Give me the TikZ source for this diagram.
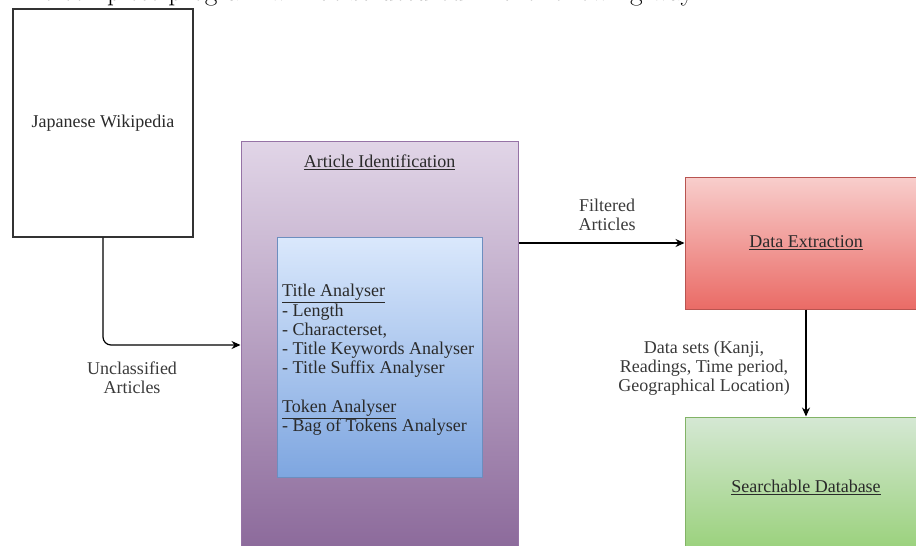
\documentclass[tikz,border=0pt]{standalone}
\usepackage{fontspec}
\newfontfamily\dfont{Liberation Serif}
\usetikzlibrary{arrows.meta}
\definecolor{edgegray}{HTML}{333333}
\definecolor{txtgray}{HTML}{2A2A2A}
\definecolor{lblgray}{HTML}{3A3A3A}
\definecolor{purpTop}{HTML}{E1D5E7}
\definecolor{purpBot}{HTML}{8C6A9B}
\definecolor{purpEdge}{HTML}{9673A6}
\definecolor{blueTop}{HTML}{DAE8FC}
\definecolor{blueBot}{HTML}{7EA6E0}
\definecolor{blueEdge}{HTML}{6C8EBF}
\definecolor{redTop}{HTML}{F8CECC}
\definecolor{redBot}{HTML}{EA6B66}
\definecolor{redEdge}{HTML}{B85450}
\definecolor{greenTop}{HTML}{D5E8D4}
\definecolor{greenBot}{HTML}{97D077}
\definecolor{greenEdge}{HTML}{82B366}
\tikzset{
  boxbase/.style={draw, line width=1pt, inner sep=0pt, rectangle},
  dtext/.style={font=\dfont\fontsize{18}{19.3}\selectfont, text=txtgray},
  lbl/.style={font=\dfont\fontsize{18}{18.7}\selectfont, text=lblgray, align=center, inner sep=0pt},
  conn/.style={line width=1.2pt, draw=black, -{Stealth[length=9pt,width=8pt]}},
}
\begin{document}
\begin{tikzpicture}[x=1pt,y=-1pt]
\useasboundingbox (0,0) rectangle (916,546);
\node[anchor=base west, inner sep=0pt, font=\fontsize{27.5}{31}\selectfont] (cap) at (10,1) {The complete program will be structured in the following way};
% boxes
\node[boxbase, draw=edgegray, line width=1.2pt, fill=white, minimum width=180pt, minimum height=228pt, dtext] (jw) at (103,123) {Japanese Wikipedia};
\node[boxbase, draw=purpEdge, top color=purpTop, bottom color=purpBot, minimum width=277pt, minimum height=408pt] (ai) at (379.5,345) {};
\node[dtext, inner sep=0pt] (aititle) at (379.5,162) {\underline{Article Identification}};
\node[boxbase, draw=blueEdge, top color=blueTop, bottom color=blueBot, minimum width=205pt, minimum height=240pt] (inner) at (379.5,357) {};
\node[dtext, anchor=west, align=left, inner sep=0pt] (innertext) at (282,360) {\underline{Title Analyser}\\- Length\\- Characterset,\\- Title Keywords Analyser\\- Title Suffix Analyser\\[19.3pt]\underline{Token Analyser}\\- Bag of Tokens Analyser};
\node[boxbase, draw=redEdge, top color=redTop, bottom color=redBot, minimum width=242pt, minimum height=132pt, dtext] (de) at (806,243) {\underline{Data Extraction}};
\node[boxbase, draw=greenEdge, top color=greenTop, bottom color=greenBot, minimum width=242pt, minimum height=140pt, dtext] (sd) at (806,487) {\underline{Searchable Database}};
% connectors
\draw[conn, rounded corners=8pt] (jw.south) |- (ai.west);
\draw[conn] (ai.east |- de.west) -- (de.west);
\draw[conn] (de.south) -- (sd.north);
% labels
\node[lbl] (l1) at (132,378) {Unclassified\\Articles};
\node[lbl] (l2) at (607,215) {Filtered\\Articles};
\node[lbl] (l3) at (704,368) {Data sets (Kanji,\\Readings, Time period,\\Geographical Location)};
\end{tikzpicture}
\end{document}
